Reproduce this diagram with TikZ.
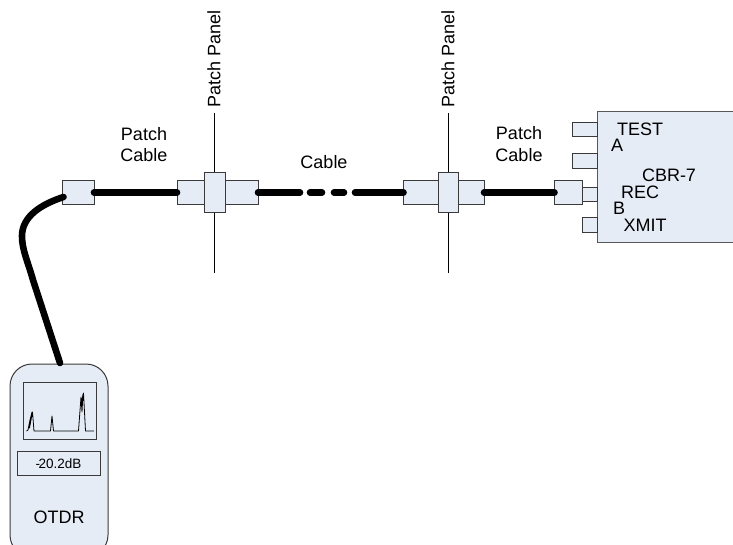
\documentclass[tikz,border=0pt]{standalone}
\usepackage{fontspec}
\setmainfont{Liberation Sans}
\definecolor{boxfill}{HTML}{E6ECF6}
\definecolor{boxline}{HTML}{3A3A3A}
\tikzset{
  part/.style={draw=boxline,fill=boxfill,line width=1pt,minimum width=0pt,minimum height=0pt,inner sep=0pt,outer sep=0pt,anchor=north west},
  fibre/.style={line width=6.6pt,line cap=round,black},
  thinline/.style={line width=1pt,black},
  lab/.style={font=\fontsize{18}{20}\selectfont,inner sep=0pt,align=center},
  small/.style={font=\fontsize{13.5}{15}\selectfont,inner sep=0pt},
}
\newcommand{\partbox}[5]{\node[part,minimum width=#4 pt,minimum height=#5 pt] (#1) at (#2,#3) {};}
\begin{document}
\begin{tikzpicture}[x=1pt,y=-1pt]
\useasboundingbox (0,0) rectangle (733,544);
\clip (0,0) rectangle (733,544);
% patch panel lines
\coordinate (l1t) at (214,113); \coordinate (l1b) at (214,273);
\coordinate (l2t) at (448,113); \coordinate (l2b) at (448,273);
\draw[thinline] (l1t) -- (l1b);
\draw[thinline] (l2t) -- (l2b);
% connectors
\partbox{c1}{62.5}{180.5}{31.5}{24}
\partbox{p1l}{177}{180.5}{81}{24}
\partbox{p1m}{204.5}{172.5}{20.5}{40}
\partbox{p2l}{403.5}{180.5}{80.5}{24}
\partbox{p2m}{438}{172.5}{20.5}{40}
% device
\node[part,draw=boxline!85,minimum width=150pt,minimum height=131pt] (dev) at (597,111) {};
\partbox{pa}{572.5}{122}{24.5}{14.5}
\partbox{pb}{572.5}{153.5}{24.5}{14.5}
\partbox{pc}{582}{187}{15}{14.5}
\partbox{pd}{582}{217.5}{15}{14.5}
\partbox{c3}{554.5}{180.5}{27.5}{24}
% cable
\coordinate (d1) at (300,192.5); \coordinate (d2a) at (310,192.5); \coordinate (d2b) at (322,192.5);
\coordinate (d3a) at (334,192.5); \coordinate (d3b) at (344,192.5); \coordinate (d4) at (355,192.5);
\coordinate (c1r) at (94,192.5);
\coordinate (otdrtop) at (60,363);
\draw[fibre] (c1r) -- (p1l.west);
\draw[fibre] (p1l.east) -- (d1);
\draw[fibre] (d2a) -- (d2b);
\draw[fibre] (d3a) -- (d3b);
\draw[fibre] (d4) -- (p2l.west);
\draw[fibre] (p2l.east) -- (c3.west);
% OTDR
\node[part,rounded corners=22pt,minimum width=98pt,minimum height=193pt] (otdr) at (10,364) {};
\draw[fibre] (c1.west) ++(1,4.5) coordinate (c1w) .. controls (42,204) and (22,216) .. (22,236) .. controls (22,250) and (28,262) .. (33,280) -- (otdrtop);
\node[part,minimum width=73pt,minimum height=57pt] (scr) at (23,382) {};
\node[part,fill=boxfill,minimum width=83pt,minimum height=24pt] (rd) at (17,451.5) {};
\draw[line width=0.8pt,black,line join=round] (26.5,431) -- (28,430) -- (30,420) -- (32,412) -- (29.5,428) -- (32.5,412) -- (34,431) -- (50.5,431) -- (52,416) -- (53.5,431) -- (78.5,431) -- (81,397) -- (82,412) -- (83,394) -- (81.5,404) -- (83.5,393) -- (85.5,431) -- (94,431);
% texts
\node[lab] (t1) at (144,144.5) {Patch\\[1.5pt]Cable};
\node[lab] (t2) at (324,162) {Cable};
\node[lab] (t3) at (519,144) {Patch\\[1.5pt]Cable};
\node[lab,rotate=90] (t4) at (214,59) {Patch Panel};
\node[lab,rotate=90] (t5) at (448,59) {Patch Panel};
\node[lab] (t6) at (640,129) {TEST};
\node[lab] (t7) at (617,145) {A};
\node[lab] (t8) at (669,175) {CBR-7};
\node[lab] (t9) at (640,192) {REC};
\node[lab] (t10) at (619,208) {B};
\node[lab] (t11) at (645,225) {XMIT};
\node[small] (t12) at (rd.center) {-\kern-1.5pt 20.2dB};
\node[lab] (t13) at (59,517) {OTDR};
\end{tikzpicture}
\end{document}
